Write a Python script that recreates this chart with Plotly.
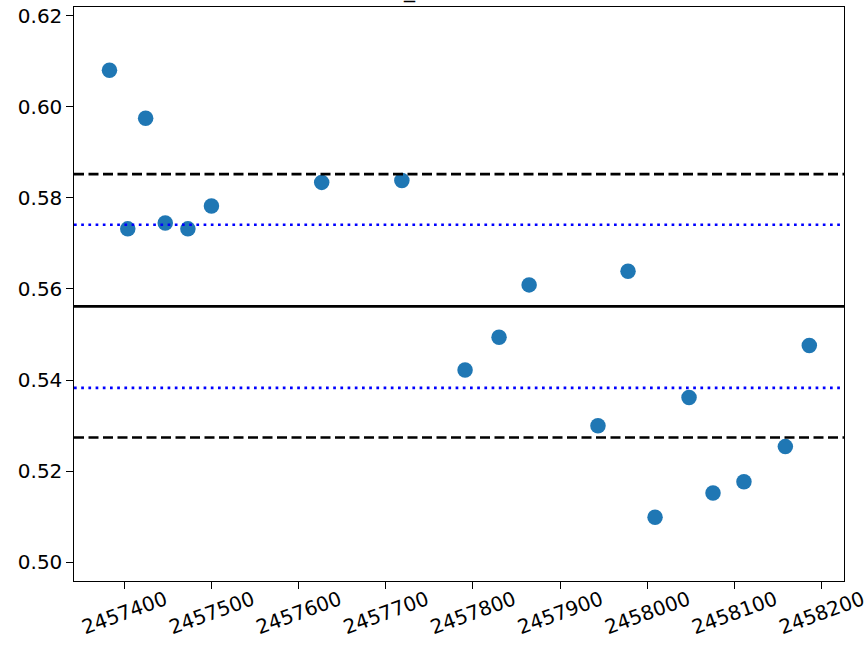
import plotly.graph_objects as go

# Data
jd = [2457383, 2457404, 2457424.5, 2457447, 2457473, 2457500, 2457626.5, 2457718.5,
      2457791, 2457830, 2457864.5, 2457943.5, 2457978, 2458009, 2458048, 2458075.5,
      2458111, 2458158.5, 2458186]
values = [0.6080, 0.5732, 0.5975, 0.5745, 0.5732, 0.5782, 0.5834, 0.5838,
          0.5422, 0.5494, 0.5609, 0.5300, 0.5639, 0.5099, 0.5362, 0.5152,
          0.5177, 0.5254, 0.5476]
mean_level = 0.5562
dashed_levels = [0.5852, 0.5274]
dotted_levels = [0.5741, 0.5383]
x_ticks = [2457400, 2457500, 2457600, 2457700, 2457800, 2457900, 2458000, 2458100, 2458200]
y_ticks = [0.50, 0.52, 0.54, 0.56, 0.58, 0.60, 0.62]
x_range = [2457342.3, 2458225.8]
y_range = [0.4959, 0.6219]

FONT = "DejaVu Sans"

fig = go.Figure()
fig.add_trace(go.Scatter(
    x=jd, y=values, mode="markers",
    marker=dict(color="#1f77b4", size=15.5, line=dict(width=0)),
    showlegend=False,
))

fig.add_hline(y=mean_level, line=dict(color="black", width=2.7, dash="solid"))
for lv in dashed_levels:
    fig.add_hline(y=lv, line=dict(color="black", width=2.7, dash="10px,4.5px"))
for lv in dotted_levels:
    fig.add_hline(y=lv, line=dict(color="blue", width=2.7, dash="2.7px,4.5px"))

# title, clipped at the top of the canvas (only the underscore visible)
fig.add_annotation(text="_", xref="paper", yref="paper", x=0.436, y=1.0,
                   xanchor="center", yanchor="bottom", showarrow=False,
                   font=dict(family=FONT, size=22, color="black"), yshift=2)

axis_common = dict(
    showline=True, linecolor="black", linewidth=1.3, mirror=True,
    ticks="outside", ticklen=6.5, tickwidth=1.3, tickcolor="black",
    showgrid=False, zeroline=False, automargin=False,
    tickfont=dict(family=FONT, size=20, color="black"),
)

fig.update_layout(
    width=866, height=647,
    margin=dict(l=74, r=22, t=7, b=66),
    paper_bgcolor="white", plot_bgcolor="white",
    xaxis=dict(range=x_range, tickmode="array", tickvals=x_ticks,
               ticktext=[str(t) for t in x_ticks], tickangle=-20,
               ticklabelshift=41, ticklabelstandoff=-8,
               ticklabeloverflow="allow", **axis_common),
    yaxis=dict(range=y_range, tickmode="array", tickvals=y_ticks,
               ticktext=[f"{t:.2f}" for t in y_ticks], **axis_common),
)

fig.write_html("out.html", config={"displayModeBar": False},
               post_script="document.body.style.margin='0';")
